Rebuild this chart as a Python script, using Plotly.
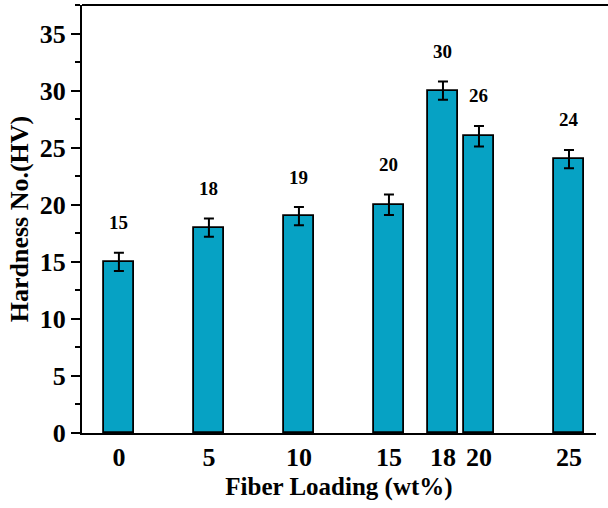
import plotly.graph_objects as go

# Fiber loading (wt%) and measured Vickers hardness
fiber_loading = [0, 5, 10, 15, 18, 20, 25]
hardness = [15, 18, 19, 20, 30, 26, 24]
hardness_err = [0.8, 0.8, 0.8, 0.9, 0.8, 0.9, 0.8]
tick_values = [0, 5, 10, 15, 18, 20, 25]
tick_labels = ["0", "5", "10", "15", "18", "20", "25"]

FONT = "Liberation Serif"
BAR_COLOR = "#06a2c4"

fig = go.Figure()
fig.add_trace(go.Bar(
    x=fiber_loading,
    y=hardness,
    width=1.7,
    marker=dict(color=BAR_COLOR, line=dict(color="black", width=1.8)),
    error_y=dict(type="data", array=hardness_err, visible=True,
                 color="black", thickness=2, width=5),
    showlegend=False,
))

# value labels above each bar
for xv, yv, ev in zip(fiber_loading, hardness, hardness_err):
    fig.add_annotation(
        x=xv, y=yv + ev, text=f"<b>{yv}</b>", showarrow=False,
        yshift=30, yanchor="middle",
        font=dict(family=FONT, size=19, color="black"),
    )

# top frame line running out to the right edge (right side left open)
fig.add_shape(type="line", xref="paper", yref="paper", x0=0, x1=1.04, y0=1, y1=1,
              line=dict(color="black", width=2), layer="above")

fig.update_layout(
    width=608, height=508,
    margin=dict(l=82, r=12, t=5, b=75),
    plot_bgcolor="white", paper_bgcolor="white",
    bargap=0,
    font=dict(family=FONT, color="black"),
)
fig.update_xaxes(
    range=[-2.05, 26.5],
    tickmode="array", tickvals=tick_values,
    ticktext=[f"<b>{t}</b>" for t in tick_labels],
    tickfont=dict(family=FONT, size=26, color="black"),
    ticks="", showgrid=False, zeroline=False,
    showline=True, linecolor="black", linewidth=2, mirror=False,
    title=dict(text="<b>Fiber Loading (wt%)</b>",
               font=dict(family=FONT, size=25, color="black"), standoff=6),
)
fig.update_yaxes(
    range=[0, 37.5],
    tickmode="linear", tick0=0, dtick=5,
    tickprefix="<b>", ticksuffix="</b>",
    tickfont=dict(family=FONT, size=26, color="black"),
    ticks="outside", ticklen=9, tickwidth=2, tickcolor="black",
    minor=dict(ticks="outside", ticklen=5, tickwidth=2, tickcolor="black", dtick=2.5),
    showgrid=False, zeroline=False,
    showline=True, linecolor="black", linewidth=2, mirror=False,
    title=dict(text="<b>Hardness No.(HV)</b>",
               font=dict(family=FONT, size=26, color="black"), standoff=4),
)

fig.write_html("out.html")
